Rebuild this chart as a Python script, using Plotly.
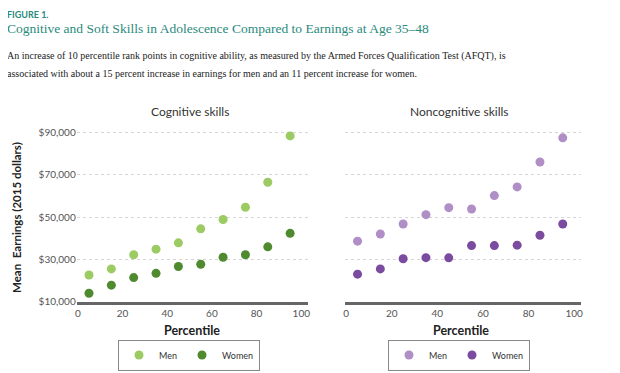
import plotly.graph_objects as go

percentile = [5, 15, 25, 35, 45, 55, 65, 75, 85, 95]
cog_men = [22600, 25500, 32200, 34800, 37800, 44400, 48800, 54600, 66400, 88300]
cog_women = [14000, 17800, 21400, 23400, 26600, 27700, 31000, 32200, 35900, 42300]
noncog_men = [38600, 42000, 46700, 51100, 54400, 53800, 60100, 64200, 76000, 87400]
noncog_women = [23000, 25500, 30300, 30800, 30700, 36500, 36500, 36700, 41400, 46700]

y_ticks = [10000, 30000, 50000, 70000, 90000]
y_ticktext = ["$10,000", "$30,000", "$50,000", "$70,000", "$90,000"]
x_ticks = [0, 20, 40, 60, 80, 100]

c_men_g = "#9BCB62"
c_women_g = "#4F8A2F"
c_men_p = "#B08EC6"
c_women_p = "#7A4B9F"
teal = "#2A8A7C"
SANS = "Lato, sans-serif"
SERIF = "Liberation Serif, serif"

# page body has an 8px default margin; figure fills the rest of the 620x373 window
OFF = 8
W, H = 620 - OFF, 373 - OFF

fig = go.Figure()
fig.add_trace(go.Scatter(x=percentile, y=cog_men, mode="markers", name="Men",
                         marker=dict(color=c_men_g, size=9), xaxis="x", yaxis="y", legend="legend"))
fig.add_trace(go.Scatter(x=percentile, y=cog_women, mode="markers", name="Women",
                         marker=dict(color=c_women_g, size=9), xaxis="x", yaxis="y", legend="legend"))
fig.add_trace(go.Scatter(x=percentile, y=noncog_men, mode="markers", name="Men",
                         marker=dict(color=c_men_p, size=9), xaxis="x2", yaxis="y2", legend="legend2"))
fig.add_trace(go.Scatter(x=percentile, y=noncog_women, mode="markers", name="Women",
                         marker=dict(color=c_women_p, size=9), xaxis="x2", yaxis="y2", legend="legend2"))

def px_x(p):
    return (p - OFF) / W

def px_y(p):
    return 1 - (p - OFF) / H

ydom = [px_y(301.7), px_y(130.2)]
tickfont = dict(family=SANS, size=10, color="#555")

xaxis_common = dict(range=[-0.5, 103], tickvals=x_ticks, showgrid=False, zeroline=False,
                    showline=True, linecolor="#666", linewidth=3, ticks="", tickfont=tickfont,
                    fixedrange=True, automargin=False)
yaxis_common = dict(range=[10000, 91000], tickvals=y_ticks, showgrid=True, gridcolor="#d6d6d6",
                    griddash="3px,3px", gridwidth=1, zeroline=False, showline=False, ticks="",
                    fixedrange=True, domain=ydom, automargin=False)

legfont = dict(family=SANS, size=9, color="#333")
fig.update_layout(
    width=W, height=H,
    template="none",
    margin=dict(l=0, r=0, t=0, b=0, autoexpand=False),
    paper_bgcolor="white", plot_bgcolor="white",
    xaxis=dict(domain=[px_x(76.7), px_x(308)], anchor="y", **xaxis_common),
    yaxis=dict(anchor="x", ticktext=y_ticktext, tickfont=tickfont, **yaxis_common),
    xaxis2=dict(domain=[px_x(345), px_x(581)], anchor="y2", **xaxis_common),
    yaxis2=dict(anchor="x2", showticklabels=False, **yaxis_common),
    legend=dict(orientation="h", x=px_x(189), y=px_y(355), xanchor="center", yanchor="middle",
                bordercolor="#888", borderwidth=1, font=legfont, itemwidth=30, tracegroupgap=0,
                bgcolor="white"),
    legend2=dict(orientation="h", x=px_x(459), y=px_y(355), xanchor="center", yanchor="middle",
                 bordercolor="#888", borderwidth=1, font=legfont, itemwidth=30, tracegroupgap=0,
                 bgcolor="white"),
    showlegend=True,
)

LX = px_x(OFF - 3)  # left-aligned header texts start right at the figure's edge
ann = []
ann.append(dict(text="<b>FIGURE 1.</b>", x=LX, y=px_y(14), xanchor="left", yanchor="middle",
                font=dict(family=SANS, size=9, color=teal)))
ann.append(dict(text="Cognitive and Soft Skills in Adolescence Compared to Earnings at Age 35–48",
                x=LX, y=px_y(29), xanchor="left", yanchor="middle",
                font=dict(family=SERIF, size=13.5, color=teal)))
ann.append(dict(text="An increase of 10 percentile rank points in cognitive ability, as measured by the Armed Forces Qualification Test (AFQT), is",
                x=LX, y=px_y(56), xanchor="left", yanchor="middle",
                font=dict(family=SERIF, size=10, color="#222")))
ann.append(dict(text="associated with about a 15 percent increase in earnings for men and an 11 percent increase for women.",
                x=LX, y=px_y(73), xanchor="left", yanchor="middle",
                font=dict(family=SERIF, size=10, color="#222")))
ann.append(dict(text="Cognitive skills", x=px_x(190), y=px_y(112), xanchor="center", yanchor="middle",
                font=dict(family=SANS, size=12, color="#333")))
ann.append(dict(text="Noncognitive skills", x=px_x(459), y=px_y(112), xanchor="center", yanchor="middle",
                font=dict(family=SANS, size=12, color="#333")))
ann.append(dict(text="<b>Percentile</b>", x=px_x(192), y=px_y(330), xanchor="center", yanchor="middle",
                font=dict(family=SANS, size=12.5, color="#222")))
ann.append(dict(text="<b>Percentile</b>", x=px_x(461), y=px_y(330), xanchor="center", yanchor="middle",
                font=dict(family=SANS, size=12.5, color="#222")))
ann.append(dict(text="<b>Mean  Earnings (2015 dollars)</b>", x=px_x(16), y=px_y(218), xanchor="center",
                yanchor="middle", textangle=-90,
                font=dict(family=SANS, size=11.5, color="#222")))
for a in ann:
    a.update(xref="paper", yref="paper", showarrow=False)
fig.update_layout(annotations=ann)

fig.write_html("out.html")
